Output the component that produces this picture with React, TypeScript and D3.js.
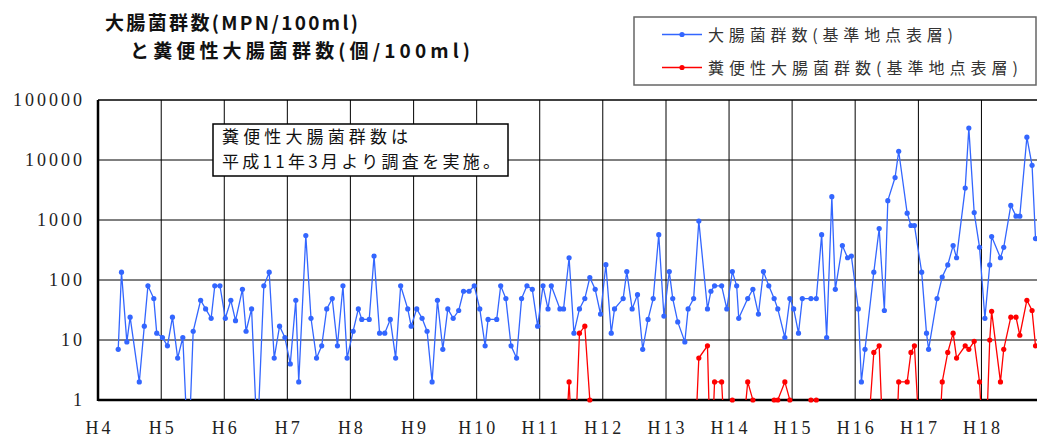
import * as React from 'react';
import * as d3 from 'd3';

// survey dates (基準地点表層), H4.4 - H18.11
const surveyDates = [
  '1992-04-27', '1992-05-16', '1992-06-16', '1992-07-05', '1992-08-27', '1992-09-25', '1992-10-16', '1992-11-19', '1992-12-06',
  '1993-01-08', '1993-02-06', '1993-03-07', '1993-04-06', '1993-05-06', '1993-06-07', '1993-07-05', '1993-08-17', '1993-09-15', '1993-10-17', '1993-11-07', '1993-12-07',
  '1994-01-07', '1994-02-08', '1994-03-07', '1994-04-16', '1994-05-07', '1994-06-08', '1994-07-11', '1994-08-18', '1994-09-18', '1994-10-17', '1994-11-17', '1994-12-18',
  '1995-01-18', '1995-02-19', '1995-03-08', '1995-04-18', '1995-05-18', '1995-06-19', '1995-07-19', '1995-08-17', '1995-09-18', '1995-10-18', '1995-11-19', '1995-12-13',
  '1996-01-17', '1996-02-16', '1996-03-07', '1996-04-19', '1996-05-17', '1996-06-18', '1996-07-18', '1996-08-19', '1996-09-19', '1996-10-18', '1996-11-28', '1996-12-18',
  '1997-01-19', '1997-02-19', '1997-03-20', '1997-04-18', '1997-05-19', '1997-06-19', '1997-07-18', '1997-08-18', '1997-09-19', '1997-10-17', '1997-11-18', '1997-12-18',
  '1998-01-19', '1998-02-19', '1998-03-08', '1998-04-27', '1998-05-20', '1998-06-19', '1998-07-19', '1998-08-20', '1998-09-18', '1998-10-19', '1998-11-19', '1998-12-20',
  '1999-01-20', '1999-02-18', '1999-03-09', '1999-04-28', '1999-05-19', '1999-06-20', '1999-07-18', '1999-08-19', '1999-09-19', '1999-10-18', '1999-11-18', '1999-12-19',
  '2000-01-19', '2000-02-19', '2000-03-09', '2000-04-28', '2000-05-19', '2000-06-19', '2000-07-20', '2000-08-19', '2000-09-19', '2000-10-19', '2000-11-20', '2000-12-20',
  '2001-01-20', '2001-02-09', '2001-03-10', '2001-04-20', '2001-05-09', '2001-06-10', '2001-07-10', '2001-08-29', '2001-09-18', '2001-10-09', '2001-11-19', '2001-12-19',
  '2002-01-20', '2002-02-14', '2002-02-26', '2002-04-19', '2002-05-19', '2002-06-20', '2002-07-19', '2002-08-19', '2002-09-19', '2002-10-10', '2002-11-20', '2002-12-19',
  '2003-01-10', '2003-02-07', '2003-03-01', '2003-04-20', '2003-05-21', '2003-06-21', '2003-07-20', '2003-08-19', '2003-09-08', '2003-10-19', '2003-11-18', '2003-12-10',
  '2004-01-19', '2004-02-06', '2004-02-27', '2004-04-18', '2004-05-19', '2004-06-18', '2004-07-08', '2004-08-19', '2004-09-09', '2004-10-28', '2004-11-19', '2004-12-09',
  '2005-01-20', '2005-02-17', '2005-03-01', '2005-04-19', '2005-05-19', '2005-06-20', '2005-07-21', '2005-08-10', '2005-09-29', '2005-10-20', '2005-11-20', '2005-12-21',
  '2006-01-21', '2006-02-18', '2006-03-01', '2006-04-21', '2006-05-10', '2006-06-20', '2006-07-20', '2006-08-11', '2006-09-21', '2006-10-21', '2006-11-10',
];

// 大腸菌群数 (MPN/100ml)
const coliformValues = [
  7, 135, 9.3, 24, 2, 17, 80, 49, 13,
  11, 8, 24, 5, 11, 0.1, 14, 46, 33, 23, 80, 80,
  23, 46, 21, 70, 14, 33, 0.2, 80, 135, 5, 17, 11,
  4, 46, 2, 550, 23, 5, 8, 33, 49, 8, 80, 5,
  14, 33, 22, 22, 250, 13, 13, 22, 5, 80, 33, 17,
  33, 23, 14, 2, 46, 7, 33, 23, 31, 65, 65, 80,
  33, 8, 22, 22, 80, 49, 8, 5, 49, 80, 70, 17,
  80, 33, 80, 33, 33, 235, 13, 33, 49, 110, 70, 27,
  180, 13, 33, 49, 138, 33, 57, 7, 22, 49, 570, 25,
  138, 49, 20, 9.3, 33, 49, 960, 33, 65, 80, 80, 33,
  138, 80, 23, 49, 70, 27, 138, 80, 49, 33, 11, 49,
  33, 13, 49, 49, 49, 570, 11, 2450, 70, 375, 235, 250,
  33, 2, 7, 135, 720, 31, 2100, 5100, 14000, 1300, 810, 810,
  135, 13, 7, 49, 112, 178, 375, 235, 3400, 34000, 1330, 350,
  23, 178, 530, 235, 350, 1750, 1160, 1160, 24000, 8150, 490,
];

// 糞便性大腸菌群数 (個/100ml), from H11.3
const fecalValues = [
  0.05, 0.05, 0.05, 2, 0.05, 13, 17, 1, 0.05, 0.05,
  0.05, 0.05, 0.05, 0.05, 0.05, 0.05, 0.05, 0.05, 0.05, 0.05, 0.05, 0.05,
  0.05, 0.05, 0.05, 0.05, 0.05, 0.05, 5, 8, 0.05, 2, 2, 0.05,
  1, 0.05, 0.05, 2, 1, 0.05, 0.05, 0.05, 1, 1, 2, 1,
  0.05, 0.05, 0.05, 1, 1, 0.05, 0.05, 0.05, 0.05, 0.05, 0.05, 0.05,
  0.05, 0.05, 0.05, 6.2, 8, 0.05, 0.05, 0.05, 2, 2, 6.2, 8,
  0.05, 0.05, 0.05, 0.05, 2, 6.2, 13, 5, 8, 7, 9.5, 2,
  0.05, 10, 30, 2, 7, 24, 24, 12, 46, 31, 8,
];

const yearLabels = ['H4', 'H5', 'H6', 'H7', 'H8', 'H9', 'H10', 'H11', 'H12', 'H13', 'H14', 'H15', 'H16', 'H17', 'H18'];
const yearStarts = [1992, 1993, 1994, 1995, 1996, 1997, 1998, 1999, 2000, 2001, 2002, 2003, 2004, 2005, 2006];
const yTicks = [1, 10, 100, 1000, 10000, 100000];

const titleLines = ['大腸菌群数(MPN/100ml)', 'と糞便性大腸菌群数(個/100ml)'];
const legendLabels = ['大腸菌群数(基準地点表層)', '糞便性大腸菌群数(基準地点表層)'];
const noteLines = ['糞便性大腸菌群数は', '平成11年3月より調査を実施。'];

const BLUE = '#3366ff';
const RED = '#ff0000';
const JP = '"Noto Sans CJK JP", "Noto Sans", sans-serif';
const SERIF = '"Liberation Serif", "DejaVu Serif", serif';

const W = 1037;
const H = 437;

const Chart: React.FC = () => {
  const svgRef = React.useRef<SVGSVGElement>(null);

  React.useEffect(() => {
    const svg = d3.select(svgRef.current);
    svg.selectAll('*').remove();

    const parse = d3.timeParse('%Y-%m-%d');
    const dates = surveyDates.map((d) => parse(d) as Date);

    const plotLeft = 98, plotTop = 100, plotBottom = 400;
    const x = d3.scaleTime()
      .domain([new Date(1992, 0, 1), new Date(2007, 0, 1)])
      .range([plotLeft, 1044.5]);
    const y = d3.scaleLog().domain([1, 100000]).range([plotBottom, plotTop]);

    svg.append('defs').append('clipPath').attr('id', 'plotClip')
      .append('rect')
      .attr('x', plotLeft).attr('y', plotTop - 1)
      .attr('width', W - plotLeft).attr('height', plotBottom - plotTop + 1);

    // grid
    const grid = svg.append('g');
    yTicks.slice(1, -1).forEach((t) => {
      grid.append('line')
        .attr('x1', plotLeft).attr('x2', W)
        .attr('y1', y(t)).attr('y2', y(t))
        .attr('stroke', '#000').attr('stroke-width', 1);
    });
    yearStarts.slice(1).forEach((yr) => {
      const xx = x(new Date(yr, 0, 1));
      grid.append('line')
        .attr('x1', xx).attr('x2', xx)
        .attr('y1', plotTop).attr('y2', plotBottom)
        .attr('stroke', '#000').attr('stroke-width', 1);
    });

    // frame
    svg.append('line').attr('x1', plotLeft).attr('x2', W).attr('y1', plotTop).attr('y2', plotTop)
      .attr('stroke', '#000').attr('stroke-width', 1.5);
    svg.append('line').attr('x1', plotLeft).attr('x2', plotLeft).attr('y1', plotTop).attr('y2', plotBottom + 1)
      .attr('stroke', '#000').attr('stroke-width', 2.5);
    svg.append('line').attr('x1', plotLeft).attr('x2', W).attr('y1', plotBottom).attr('y2', plotBottom)
      .attr('stroke', '#000').attr('stroke-width', 2.5);

    // y labels
    svg.append('g').selectAll('text').data(yTicks).enter().append('text')
      .attr('x', 85).attr('y', (d) => y(d) + 6)
      .attr('text-anchor', 'end')
      .attr('font-family', SERIF).attr('font-size', 18)
      .attr('letter-spacing', 3)
      .attr('fill', '#222')
      .text((d) => String(d));

    // x labels
    svg.append('g').selectAll('text').data(yearLabels).enter().append('text')
      .attr('x', (d, i) => x(new Date(yearStarts[i], 0, 1)) + 1.5)
      .attr('y', 434)
      .attr('text-anchor', 'middle')
      .attr('font-family', SERIF).attr('font-size', 18)
      .attr('letter-spacing', 3)
      .attr('fill', '#222')
      .text((d) => d);

    // series
    const series = [
      { color: BLUE, pts: coliformValues.map((v, i) => ({ d: dates[i], v })) },
      { color: RED, pts: fecalValues.map((v, i) => ({ d: dates[dates.length - fecalValues.length + i], v })) },
    ];
    const line = d3.line<{ d: Date; v: number }>()
      .x((p) => x(p.d))
      .y((p) => y(p.v));

    series.forEach((s) => {
      svg.append('path')
        .attr('clip-path', 'url(#plotClip)')
        .attr('d', line(s.pts))
        .attr('fill', 'none')
        .attr('stroke', s.color)
        .attr('stroke-width', 1.3);
      svg.append('g').selectAll('circle')
        .data(s.pts.filter((p) => p.v >= 1))
        .enter().append('circle')
        .attr('cx', (p) => x(p.d))
        .attr('cy', (p) => y(p.v))
        .attr('r', 2.6)
        .attr('fill', s.color);
    });

    // title
    svg.append('g').selectAll('text').data(titleLines).enter().append('text')
      .attr('x', (d, i) => (i === 0 ? 105 : 130))
      .attr('y', (d, i) => (i === 0 ? 30 : 58))
      .attr('font-family', JP).attr('font-size', 19).attr('font-weight', 'bold')
      .attr('textLength', (d, i) => (i === 0 ? 253 : 340))
      .attr('lengthAdjust', 'spacing')
      .attr('fill', '#111')
      .text((d) => d);

    // legend
    const legend = svg.append('g');
    legend.append('rect')
      .attr('x', 634).attr('y', 17).attr('width', 402).attr('height', 68)
      .attr('fill', '#fff').attr('stroke', '#666').attr('stroke-width', 1.5);
    legendLabels.forEach((label, i) => {
      const ly = i === 0 ? 34.5 : 67.5;
      const c = i === 0 ? BLUE : RED;
      legend.append('line').attr('x1', 662).attr('x2', 702).attr('y1', ly).attr('y2', ly)
        .attr('stroke', c).attr('stroke-width', 1.3);
      legend.append('circle').attr('cx', 682).attr('cy', ly).attr('r', 2.6).attr('fill', c);
      legend.append('text')
        .attr('x', 708).attr('y', ly + 6.5)
        .attr('font-family', JP).attr('font-size', 16)
        .attr('textLength', i === 0 ? 245 : 310)
        .attr('lengthAdjust', 'spacing')
        .attr('fill', '#333')
        .text(label);
    });

    // note box
    const note = svg.append('g');
    note.append('rect')
      .attr('x', 213).attr('y', 124).attr('width', 295).attr('height', 52)
      .attr('fill', '#fff').attr('stroke', '#000').attr('stroke-width', 1.5);
    noteLines.forEach((t, i) => {
      note.append('text')
        .attr('x', 222).attr('y', i === 0 ? 143 : 168)
        .attr('font-family', JP).attr('font-size', 17)
        .attr('textLength', i === 0 ? 186 : 278)
        .attr('lengthAdjust', 'spacing')
        .attr('fill', '#111')
        .text(t);
    });
  }, []);

  return (
    <svg ref={svgRef} width={W} height={H}
      style={{ position: 'absolute', left: 0, top: 0, background: '#fff' }} />
  );
};

export default function App() {
  return <Chart />;
}
